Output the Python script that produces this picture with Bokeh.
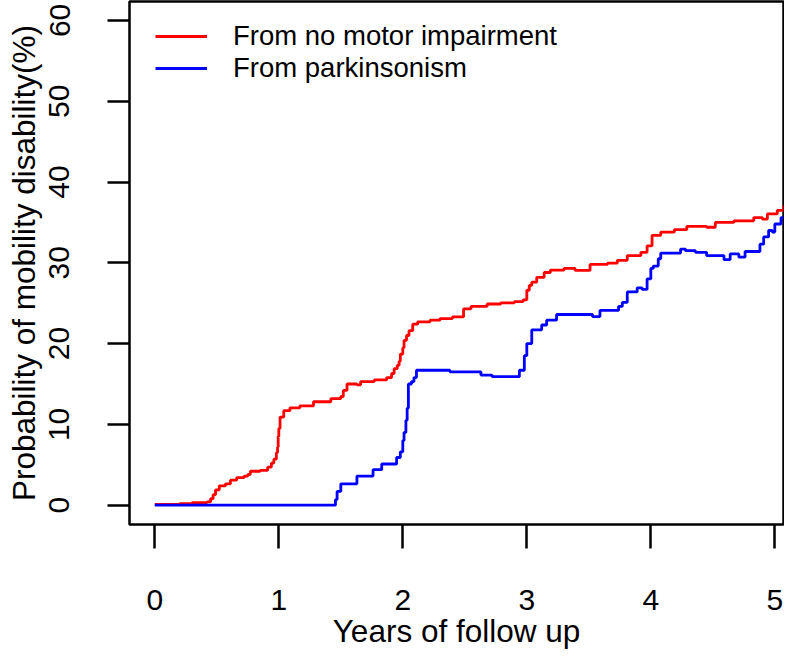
from bokeh.plotting import figure
from bokeh.models import Range1d, FixedTicker, Legend, LegendItem
from bokeh.embed import file_html
from bokeh.resources import INLINE

# ---- data ----
x_ticks = [0, 1, 2, 3, 4, 5]
y_ticks = [0, 10, 20, 30, 40, 50, 60]

red_label = "From no motor impairment"
red_x = [0.0, 0.2, 0.3, 0.42, 0.45, 0.47, 0.49, 0.52, 0.57, 0.61, 0.66, 0.72, 0.75, 0.77,
         0.85, 0.91, 0.94, 0.96, 0.98, 0.99, 0.995, 1.0, 1.01, 1.04, 1.09, 1.17, 1.28, 1.42,
         1.5, 1.52, 1.55, 1.63, 1.66, 1.77, 1.87, 1.91, 1.93, 1.955, 1.97, 1.98, 2.0, 2.01,
         2.03, 2.05, 2.08, 2.12, 2.22, 2.3, 2.4, 2.49, 2.55, 2.68, 2.79, 2.9, 2.97, 3.0,
         3.02, 3.04, 3.08, 3.14, 3.19, 3.3, 3.39, 3.51, 3.65, 3.73, 3.81, 3.92, 3.97, 4.01,
         4.08, 4.19, 4.29, 4.45, 4.52, 4.67, 4.83, 4.9, 4.94, 5.02, 5.07, 5.15, 5.2]
red_y = [0.1, 0.2, 0.3, 0.4, 0.8, 1.3, 1.9, 2.4, 2.65, 3.1, 3.4, 3.6, 3.8, 4.2,
         4.3, 4.7, 5.2, 5.7, 6.5, 7.2, 8.5, 9.5, 10.9, 11.7, 12.05, 12.3, 12.8, 13.2,
         13.45, 14.2, 15.0, 14.9, 15.3, 15.5, 15.8, 16.3, 16.9, 17.3, 17.8, 18.7, 19.5, 20.4,
         21.0, 21.6, 22.4, 22.7, 22.9, 23.1, 23.3, 24.3, 24.6, 24.9, 25.05, 25.2, 25.4, 26.6,
         27.2, 27.6, 28.2, 28.8, 29.1, 29.3, 29.05, 29.8, 29.95, 30.3, 30.9, 31.3, 32.1, 33.4,
         33.8, 34.1, 34.5, 34.4, 35.0, 35.2, 35.6, 35.4, 36.05, 36.5, 37.0, 37.2, 37.2]

blue_label = "From parkinsonism"
blue_x = [0.0, 1.457, 1.47, 1.5, 1.63, 1.76, 1.83, 1.95, 1.98, 2.0, 2.01, 2.025, 2.035,
          2.045, 2.07, 2.09, 2.11, 2.38, 2.63, 2.72, 2.94, 2.98, 3.0, 3.04, 3.12, 3.16, 3.24,
          3.53, 3.59, 3.74, 3.77, 3.81, 3.89, 3.93, 3.97, 4.0, 4.02, 4.06, 4.08, 4.24, 4.28,
          4.36, 4.45, 4.59, 4.64, 4.71, 4.76, 4.88, 4.91, 4.95, 4.98, 5.0, 5.05, 5.2]
blue_y = [0.0, 0.7, 1.7, 2.65, 3.6, 4.4, 5.1, 5.9, 6.6, 8.0, 9.0, 10.5, 12.0,
          15.0, 15.3, 15.8, 16.7, 16.5, 16.1, 15.9, 16.7, 18.5, 20.0, 21.7, 22.3, 22.9, 23.6,
          23.35, 24.1, 24.6, 25.1, 26.4, 26.9, 26.7, 28.0, 29.3, 29.6, 30.5, 31.2, 31.7, 31.5,
          31.3, 30.9, 30.4, 31.1, 30.7, 31.4, 32.3, 33.2, 34.0, 33.8, 34.8, 35.6, 35.6]

x_title = "Years of follow up"
y_title = "Probability of mobility disability(%)"

FONT = "Liberation Sans"

p = figure(width=784, height=651, output_backend="svg", toolbar_location=None,
           x_range=Range1d(-0.204, 5.07), y_range=Range1d(-2.39, 62.34),
           min_border_left=129, min_border_right=1, min_border_top=1,
           min_border_bottom=127)
p.grid.visible = False
p.outline_line_color = "black"
p.outline_line_width = 2.5
p.background_fill_color = "white"
p.border_fill_color = "white"

r_red = p.step(red_x, red_y, mode="after", line_color="#FF0000", line_width=2.8)
r_blue = p.step(blue_x, blue_y, mode="after", line_color="#0000FF", line_width=2.8)

for ax in (p.xaxis[0], p.yaxis[0]):
    ax.axis_line_color = None
    ax.major_tick_in = 0
    ax.minor_tick_out = 0
    ax.minor_tick_in = 0
    ax.major_tick_line_width = 2.5
    ax.major_tick_line_color = "black"
    ax.major_label_text_font = FONT
    ax.major_label_text_font_size = "30px"
    ax.major_label_text_color = "black"
    ax.axis_label_text_font = FONT
    ax.axis_label_text_font_size = "31.5px"
    ax.axis_label_text_font_style = "normal"
    ax.axis_label_text_color = "black"

p.xaxis.ticker = FixedTicker(ticks=x_ticks)
p.yaxis.ticker = FixedTicker(ticks=y_ticks)
p.xaxis.major_tick_out = 24
p.yaxis.major_tick_out = 22
p.xaxis.major_label_standoff = 41
p.yaxis.major_label_standoff = 38
p.yaxis.major_label_orientation = "vertical"
p.xaxis.axis_label = x_title
p.yaxis.axis_label = y_title
p.xaxis.axis_label_standoff = 0
p.yaxis.axis_label_standoff = 5

legend = Legend(items=[LegendItem(label=red_label, renderers=[r_red]),
                       LegendItem(label=blue_label, renderers=[r_blue])],
                location=(26, 440), border_line_color=None, background_fill_alpha=0,
                padding=0, margin=0, spacing=-3, glyph_width=52, glyph_height=32,
                label_height=32, label_standoff=26, label_text_font=FONT,
                label_text_font_size="27.5px", label_text_color="black")
p.add_layout(legend)

open("out.html", "w").write(file_html(p, INLINE))
